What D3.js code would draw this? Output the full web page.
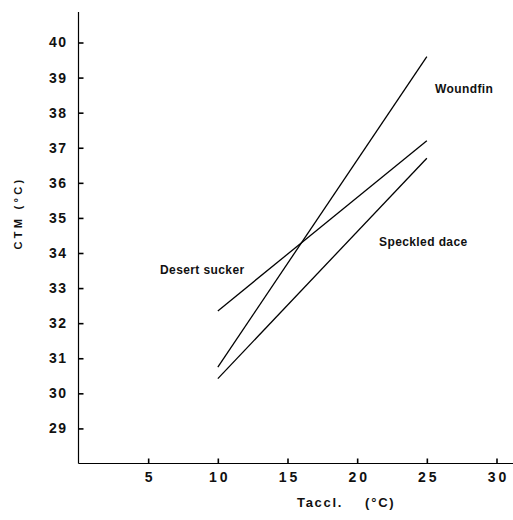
<!DOCTYPE html>
<html><head><meta charset="utf-8">
<script src="https://cdn.jsdelivr.net/npm/d3@7"></script>
<style>body{margin:0;background:#fff}svg{display:block}</style>
</head><body>
<script>
const species = ["Woundfin", "Desert sucker", "Speckled dace"];
const acclTemps = [10, 25];
const woundfin = [30.75, 39.6];
const desertSucker = [32.35, 37.2];
const speckledDace = [30.42, 36.7];
const xTicks = [5, 10, 15, 20, 25, 30];
const yTicks = [29, 30, 31, 32, 33, 34, 35, 36, 37, 38, 39, 40];

const W = 513, H = 520;
const svg = d3.select("body").append("svg").attr("width", W).attr("height", H);
const x = d3.scaleLinear().domain([0, 30]).range([78.5, 496.5]);
const y = d3.scaleLinear().domain([28, 40]).range([463.5, 42.5]);

const font = "Arial, 'Liberation Sans', Helvetica, sans-serif";

// axes
const xAxis = d3.axisBottom(x).tickValues(xTicks).tickSize(-5).tickSizeOuter(0).tickFormat(d3.format("d"));
const gx = svg.append("g").attr("transform", `translate(0,${y(28)})`).call(xAxis);
gx.select(".domain").remove();
gx.append("line").attr("x1", x(0)).attr("x2", W).attr("y1", 0).attr("y2", 0).attr("stroke", "#000").attr("stroke-width", 1.2);
gx.selectAll(".tick line").attr("stroke", "#000").attr("stroke-width", 1.6);
gx.selectAll(".tick text").attr("y", 9).attr("dy", "0.71em")
  .attr("font-family", font).attr("font-size", 14).attr("font-weight", "bold")
  .attr("letter-spacing", 3).attr("fill", "#111").attr("dx", 1.5);

const yAxis = d3.axisLeft(y).tickValues(yTicks).tickSize(-5).tickSizeOuter(0).tickFormat(d3.format("d"));
const gy = svg.append("g").attr("transform", `translate(${x(0)},0)`).call(yAxis);
gy.select(".domain").remove();
gy.append("line").attr("x1", 0).attr("x2", 0).attr("y1", 12).attr("y2", y(28)).attr("stroke", "#000").attr("stroke-width", 1.2);
gy.selectAll(".tick line").attr("stroke", "#000").attr("stroke-width", 1.6);
gy.selectAll(".tick text").attr("x", -11)
  .attr("font-family", font).attr("font-size", 14).attr("font-weight", "bold")
  .attr("letter-spacing", 1.5).attr("fill", "#111");

// axis titles
svg.append("text").attr("transform", `translate(22,213) rotate(-90)`)
  .attr("text-anchor", "middle").attr("font-family", font).attr("font-size", 11)
  .attr("font-weight", "bold").attr("letter-spacing", 3.3).attr("fill", "#111")
  .text("CTM (°C)");
svg.append("text").attr("x", 297).attr("y", 507)
  .attr("font-family", font).attr("font-size", 13).attr("font-weight", "bold")
  .attr("letter-spacing", 1.7).attr("fill", "#111")
  .text("Taccl.");
svg.append("text").attr("x", 365).attr("y", 507)
  .attr("font-family", font).attr("font-size", 13).attr("font-weight", "bold")
  .attr("letter-spacing", 1.8).attr("fill", "#111")
  .text("(°C)");

// lines
const series = [woundfin, desertSucker, speckledDace];
const line = d3.line().x((d, i) => x(acclTemps[i])).y(d => y(d));
svg.selectAll("path.s").data(series).enter().append("path")
  .attr("class", "s").attr("d", d => line(d))
  .attr("fill", "none").attr("stroke", "#000").attr("stroke-width", 1.3);

// labels
const labelPos = [[435, 93], [160, 274], [379, 246]];
svg.selectAll("text.lab").data(species).enter().append("text")
  .attr("class", "lab").attr("x", (d, i) => labelPos[i][0]).attr("y", (d, i) => labelPos[i][1])
  .attr("font-family", font).attr("font-size", 12).attr("font-weight", "bold")
  .attr("letter-spacing", 0.4).attr("fill", "#111").text(d => d);
</script>
</body></html>
